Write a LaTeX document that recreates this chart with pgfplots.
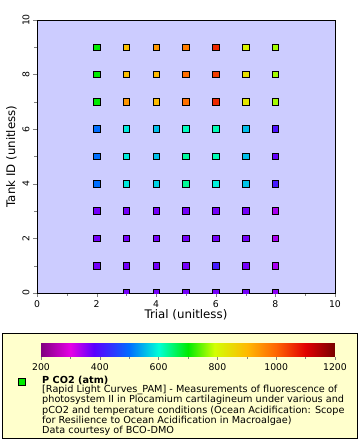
\documentclass[border=0pt]{standalone}
\usepackage{pgfplots}
\pgfplotsset{compat=1.18}
\usepackage{fontspec}
\setmainfont{DejaVu Sans}
\definecolor{plotbg}{RGB}{204,204,255}
\definecolor{legbg}{RGB}{255,255,204}
\pgfplotsset{
  colormap={co2}{rgb255(200)=(128,0,128) rgb255(300)=(230,0,230) rgb255(380)=(90,0,255) rgb255(450)=(40,60,255) rgb255(500)=(0,110,255) rgb255(600)=(0,255,215) rgb255(700)=(0,235,0) rgb255(790)=(210,255,0) rgb255(900)=(255,185,0) rgb255(1000)=(255,100,0) rgb255(1100)=(225,0,0) rgb255(1200)=(120,0,0)}
}
\begin{document}
\begin{tikzpicture}[x=1pt,y=1pt]
\path[use as bounding box] (0,0) rectangle (360,440);
\begin{axis}[
  at={(37pt,147pt)}, anchor=south west,
  scale only axis, width=298pt, height=273pt,
  xmin=0, xmax=10, ymin=0, ymax=10,
  xtick={0,2,...,10}, ytick={0,2,...,10},
  minor xtick={1,3,...,9}, minor ytick={1,3,...,9},
  tick align=outside, tick pos=left,
  major tick length=4pt, minor tick length=2.5pt,
  axis background/.style={fill=plotbg},
  tick label style={font=\fontsize{9.3}{10}\selectfont},
  /pgf/number format/assume math mode=true,
  yticklabel style={rotate=90, anchor=south},
  xlabel={Trial (unitless)}, ylabel={Tank ID (unitless)},
  label style={font=\fontsize{11.8}{13}\selectfont},
  xlabel style={yshift=5pt},
  ylabel style={yshift=-1pt},
  colormap name=co2,
  point meta min=200, point meta max=1200,
  clip marker paths=true,
  axis line style={line width=0.8pt},
]
\addplot[scatter, only marks, mark=square*, mark size=3.3pt,
  scatter/use mapped color={draw=black, fill=mapped color, line width=0.8pt},
  point meta=explicit]
table[meta=c] {
x y c
2 9 700
3 9 890
4 9 940
5 9 970
6 9 1060
7 9 810
8 9 770
2 8 700
3 8 890
4 8 900
5 8 990
6 8 1040
7 8 840
8 8 770
2 7 700
3 7 940
4 7 895
5 7 985
6 7 1060
7 7 830
8 7 770
2 6 500
3 6 585
4 6 555
5 6 610
6 6 615
7 6 555
8 6 400
2 5 500
3 5 585
4 5 555
5 5 625
6 5 615
7 5 555
8 5 375
2 4 500
3 4 585
4 4 570
5 4 630
6 4 590
7 4 560
8 4 410
2 3 365
3 3 365
4 3 365
5 3 365
6 3 365
7 3 365
8 3 335
2 2 365
3 2 365
4 2 365
5 2 365
6 2 365
7 2 365
8 2 335
2 1 365
3 1 365
4 1 365
5 1 365
6 1 410
7 1 365
8 1 335
3 0 365
4 0 365
5 0 365
6 0 365
7 0 365
8 0 350
};
\end{axis}
\draw[fill=legbg, line width=0.8pt] (2,2) rectangle (357,107);
\begin{axis}[
  at={(41pt,83pt)}, anchor=south west,
  scale only axis, width=294pt, height=14pt,
  xmin=200, xmax=1200, ymin=0, ymax=1,
  axis y line=none, axis x line*=bottom,
  xtick={200,400,...,1200}, minor xtick={300,500,...,1100},
  tick align=outside, major tick length=3pt, minor tick length=2pt,
  tick label style={font=\fontsize{9.3}{10}\selectfont},
  /pgf/number format/assume math mode=true,
  /pgf/number format/1000 sep={},
  colormap name=co2, point meta min=200, point meta max=1200,
  axis line style={draw=none},
]
\addplot[surf, shader=interp, point meta=x, mesh/rows=2] coordinates {
(200,0) (1200,0)
(200,1) (1200,1)
};
\end{axis}
\draw[black, line width=0.8pt, fill={rgb,255:red,0;green,235;blue,0}] (18.5,54.5) rectangle (25.5,61.5);
\node[anchor=north west, inner sep=0pt, align=left, font=\fontsize{9.7}{9}\selectfont] at (42,64.5)
{\textbf{P CO2 (atm)}\\\relax
{[}Rapid Light Curves\_PAM{]} - Measurements of fluorescence of\\
photosystem II in Plocamium cartilagineum under various and\\
pCO2 and temperature conditions (Ocean Acidification: Scope\\
for Resilience to Ocean Acidification in Macroalgae)\\
Data courtesy of BCO-DMO};
\end{tikzpicture}
\end{document}
